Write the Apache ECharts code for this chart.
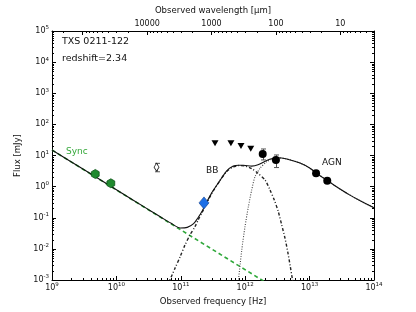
<!DOCTYPE html>
<html><head><meta charset="utf-8">
<script src="https://cdn.jsdelivr.net/npm/echarts/dist/echarts.min.js"></script>
<style>html,body{margin:0;padding:0;background:#fff}#c{width:416px;height:312px}</style>
</head><body><div id="c"></div>
<script>
// ---------------- data ----------------
// frequency in Hz, flux in mJy
const totalFreq = [1e9,3.16e9,1e10,3.16e10,5.01e10,7.08e10,9.77e10,1.26e11,1.58e11,1.86e11,2.14e11,2.29e11,3.02e11,4.07e11,5.13e11,6.53e11,7.94e11,9.33e11,1.26e12,1.58e12,2.16e12,2.75e12,3.16e12,4.41e12,7.10e12,1e13,1.26e13,1.58e13,2.0e13,2.51e13,3.98e13,6.31e13,1e14];
const totalFlux = [15.1,3.47,0.794,0.182,0.102,0.0661,0.0468,0.049,0.0646,0.102,0.162,0.214,0.631,1.585,3.16,4.57,4.85,4.85,4.57,5.01,6.92,8.13,8.51,7.76,5.75,3.98,2.75,2.0,1.445,1.047,0.575,0.339,0.209];

const syncFreq = [1e9, 1e11, 2e12];
const syncFlux = [15.0, 0.0408, 8.8e-4];

const bbFreq = [6.31e10,8.13e10,9.77e10,1.16e11,1.39e11,1.66e11,1.86e11,2.14e11,2.29e11,3.02e11,4.07e11,5.13e11,6.31e11,7.94e11,1e12,1.26e12,1.58e12,2.04e12,2.43e12,2.83e12,3.27e12,3.69e12,4.15e12,4.57e12,4.97e12,5.38e12,5.75e12];
const bbFlux = [7.08e-4,2.4e-3,5.62e-3,0.0132,0.0282,0.0513,0.0851,0.148,0.196,0.6,1.585,3.02,4.17,4.75,4.57,3.80,2.69,1.62,0.776,0.372,0.155,0.0589,0.0219,8.13e-3,3.02e-3,1.12e-3,5.0e-4];

const agnFreq = [7.59e11,8.83e11,9.93e11,1.12e12,1.26e12,1.42e12,1.70e12,2.16e12,2.75e12,3.16e12,4.41e12,7.10e12,1e13,1.58e13,2.51e13,3.98e13,6.31e13,1e14];
const agnFlux = [5.0e-4,9.12e-3,0.0513,0.226,0.78,2.08,3.88,6.32,7.94,8.41,7.76,5.75,3.98,2.0,1.047,0.575,0.339,0.209];

const radioFreq = [4.7e9, 8.2e9];
const radioFlux = [2.55, 1.28];

const openFreq = [4.2e10];
const openFlux = [4.2];
const openLo = [3.0];
const openHi = [5.6];

const mmFreq = [2.29e11];
const mmFlux = [0.30];

const limitFreq = [3.4e11, 6.0e11, 8.6e11, 1.22e12];
const limitFlux = [24.7, 24.7, 20.2, 16.5];

const irFreq = [1.87e12, 3.0e12, 1.26e13, 1.88e13];
const irFlux = [11.2, 7.2, 2.68, 1.55];
const irErrFreq = [1.87e12, 3.0e12];
const irLo = [7.2, 4.1];
const irHi = [16.2, 10.4];

const xDecades = [9, 10, 11, 12, 13, 14];
const yDecades = [-3, -2, -1, 0, 1, 2, 3, 4, 5];
const wavelengthLabels = [10000, 1000, 100, 10];

// ---------------- helpers ----------------
const FONT = 'DejaVu Sans';
const zip = (a, b) => a.map((v, i) => [v, b[i]]);
const isDecade = v => Math.abs(Math.log10(v) - Math.round(Math.log10(v))) < 1e-6;
const supRich = {
  b: { fontSize: 8, fontFamily: FONT, color: '#111', lineHeight: 12 },
  s: { fontSize: 5.5, fontFamily: FONT, color: '#111', lineHeight: 7, verticalAlign: 'top' }
};
const supFmt = v => '{b|10}{s|' + Math.round(Math.log10(v)) + '}';

// minor tick positions (axis decoration)
const xMinor = [], wlMinor = [], yMinor = [];
for (let e = 9; e < 14; e++) for (let k = 2; k <= 9; k++) xMinor.push([k * Math.pow(10, e), 1]);
for (let e = 0; e <= 5; e++) for (let k = 2; k <= 9; k++) { const v = k * Math.pow(10, e); if (v > 3.0001 && v < 2.9999e5) wlMinor.push([v, 1]); }
for (let e = -3; e < 5; e++) for (let k = 2; k <= 9; k++) yMinor.push([1e10, k * Math.pow(10, e)]);

const tickStyle = { stroke: '#000', lineWidth: 1 };
function minorX(top) {
  return function (params, api) {
    const cs = params.coordSys;
    const px = Math.round(api.coord([api.value(0), 1])[0]) + 0.5;
    const y0 = top ? cs.y : cs.y + cs.height;
    const y1 = top ? cs.y + 2 : cs.y + cs.height - 2;
    return { type: 'line', silent: true, shape: { x1: px, y1: y0, x2: px, y2: y1 }, style: tickStyle };
  };
}
function minorY(params, api) {
  const cs = params.coordSys;
  const py = Math.round(api.coord([1e10, api.value(1)])[1]) + 0.5;
  return { type: 'group', silent: true, children: [
    { type: 'line', shape: { x1: cs.x, y1: py, x2: cs.x + 2, y2: py }, style: tickStyle },
    { type: 'line', shape: { x1: cs.x + cs.width, y1: py, x2: cs.x + cs.width - 2, y2: py }, style: tickStyle }
  ]};
}
function errBar(params, api) {
  const x = api.value(0);
  const p1 = api.coord([x, api.value(1)]);
  const p2 = api.coord([x, api.value(2)]);
  const cx = Math.round(p1[0]) + 0.5, cap = 2.5;
  const st = { stroke: '#555', lineWidth: 1 };
  return { type: 'group', children: [
    { type: 'line', shape: { x1: cx, y1: p1[1], x2: cx, y2: p2[1] }, style: st },
    { type: 'line', shape: { x1: cx - cap, y1: p1[1], x2: cx + cap, y2: p1[1] }, style: st },
    { type: 'line', shape: { x1: cx - cap, y1: p2[1], x2: cx + cap, y2: p2[1] }, style: st }
  ]};
}

const axisLine = { show: true, onZero: false, lineStyle: { color: '#000', width: 1 } };
const hexPath = 'path://M0,-1L0.866,-0.5L0.866,0.5L0,1L-0.866,0.5L-0.866,-0.5Z';

const chart = echarts.init(document.getElementById('c'), null, { renderer: 'canvas' });
chart.setOption({
  animation: false,
  backgroundColor: '#fff',
  textStyle: { fontFamily: FONT },
  grid: { left: 52, right: 42, top: 31, bottom: 32 },
  xAxis: [
    { type: 'log', logBase: 10, min: 1e9, max: 1e14, position: 'bottom',
      axisLine, splitLine: { show: false },
      axisTick: { inside: true, length: 4, lineStyle: { color: '#000' } },
      axisLabel: { formatter: supFmt, rich: supRich, margin: 2,
        showMinLabel: true, showMaxLabel: true },
      name: 'Observed frequency [Hz]', nameLocation: 'middle', nameGap: 16,
      nameTextStyle: { fontSize: 8.5, fontFamily: FONT, color: '#111' } },
    { type: 'log', logBase: 10, min: 3, max: 3e5, inverse: true, position: 'top',
      axisLine, splitLine: { show: false },
      axisTick: { inside: true, length: 4, lineStyle: { color: '#000' } },
      axisLabel: { fontSize: 8, fontFamily: FONT, color: '#111', margin: 3,
        formatter: v => { if (!isDecade(v)) return ''; const r = Math.round(v); return wavelengthLabels.indexOf(r) >= 0 ? String(r) : ''; } },
      name: 'Observed wavelength [μm]', nameLocation: 'middle', nameGap: 14,
      nameTextStyle: { fontSize: 8.5, fontFamily: FONT, color: '#111' } }
  ],
  yAxis: [
    { type: 'log', logBase: 10, min: 1e-3, max: 1e5, position: 'left',
      axisLine, splitLine: { show: false },
      axisTick: { inside: true, length: 4, lineStyle: { color: '#000' } },
      axisLabel: { formatter: supFmt, rich: supRich, margin: 3 },
      name: 'Flux [mJy]', nameLocation: 'middle', nameGap: 26, nameRotate: 90,
      nameTextStyle: { fontSize: 8.5, fontFamily: FONT, color: '#111' } },
    { type: 'log', logBase: 10, min: 1e-3, max: 1e5, position: 'right',
      axisLine, splitLine: { show: false },
      axisTick: { inside: true, length: 4, lineStyle: { color: '#000' } },
      axisLabel: { show: false } }
  ],
  graphic: [
    { type: 'text', x: 62, y: 42, style: { text: 'TXS 0211-122', font: '9.5px "DejaVu Sans"', fill: '#111', align: 'left', verticalAlign: 'middle' } },
    { type: 'text', x: 62, y: 59, style: { text: 'redshift=2.34', font: '9.5px "DejaVu Sans"', fill: '#111', align: 'left', verticalAlign: 'middle' } },
    { type: 'text', x: 66, y: 152, style: { text: 'Sync', font: '9px "DejaVu Sans"', fill: '#35a83a', align: 'left', verticalAlign: 'middle' } },
    { type: 'text', x: 206, y: 170.5, style: { text: 'BB', font: '9px "DejaVu Sans"', fill: '#111', align: 'left', verticalAlign: 'middle' } },
    { type: 'text', x: 322, y: 163, style: { text: 'AGN', font: '9px "DejaVu Sans"', fill: '#111', align: 'left', verticalAlign: 'middle' } }
  ],
  series: [
    { type: 'custom', xAxisIndex: 0, yAxisIndex: 0, data: xMinor, renderItem: minorX(false), silent: true, z: 1 },
    { type: 'custom', xAxisIndex: 1, yAxisIndex: 0, data: wlMinor, renderItem: minorX(true), silent: true, z: 1 },
    { type: 'custom', xAxisIndex: 0, yAxisIndex: 0, data: yMinor, renderItem: minorY, silent: true, z: 1 },
    { name: 'Sync', type: 'line', data: zip(syncFreq, syncFlux), showSymbol: false, symbol: 'none',
      lineStyle: { color: '#2fa83a', width: 1.6, type: [4, 3] }, z: 2 },
    { name: 'BB', type: 'line', data: zip(bbFreq, bbFlux), showSymbol: false, symbol: 'none', smooth: 0.25,
      lineStyle: { color: '#222', width: 1.4, type: [3, 2, 1, 2] }, z: 2 },
    { name: 'AGN', type: 'line', data: zip(agnFreq, agnFlux), showSymbol: false, symbol: 'none', smooth: 0.25,
      lineStyle: { color: '#444', width: 1.1, type: [1, 1.5] }, z: 2 },
    { name: 'Total', type: 'line', data: zip(totalFreq, totalFlux), showSymbol: false, symbol: 'none', smooth: 0.25,
      lineStyle: { color: '#111', width: 1.1 }, z: 3 },
    { type: 'custom', data: openFreq.map((f, i) => [f, openLo[i], openHi[i]]), encode: { x: 0, y: [1, 2] }, renderItem: errBar, z: 4 },
    { type: 'custom', data: irErrFreq.map((f, i) => [f, irLo[i], irHi[i]]), encode: { x: 0, y: [1, 2] }, renderItem: errBar, z: 4 },
    { type: 'scatter', data: zip(radioFreq, radioFlux), symbol: hexPath, symbolKeepAspect: true, symbolSize: 9,
      itemStyle: { color: '#1f8a2e', borderColor: '#0c5418', borderWidth: 0.8, opacity: 1 }, z: 5 },
    { type: 'scatter', data: zip(openFreq, openFlux), symbol: 'diamond', symbolSize: [5, 8],
      itemStyle: { color: '#fff', borderColor: '#222', borderWidth: 0.8, opacity: 1 }, z: 5 },
    { type: 'scatter', data: zip(mmFreq, mmFlux), symbol: 'diamond', symbolSize: [10, 12],
      itemStyle: { color: '#1d6fe6', borderColor: '#123f8a', borderWidth: 0.6, opacity: 1 }, z: 5 },
    { type: 'scatter', data: zip(limitFreq, limitFlux), symbol: 'triangle', symbolRotate: 180, symbolSize: [7, 6],
      itemStyle: { color: '#000', opacity: 1 }, z: 5 },
    { type: 'scatter', data: zip(irFreq, irFlux), symbol: 'circle', symbolSize: 8,
      itemStyle: { color: '#000', opacity: 1 }, z: 5 }
  ]
});
</script>
</body></html>
